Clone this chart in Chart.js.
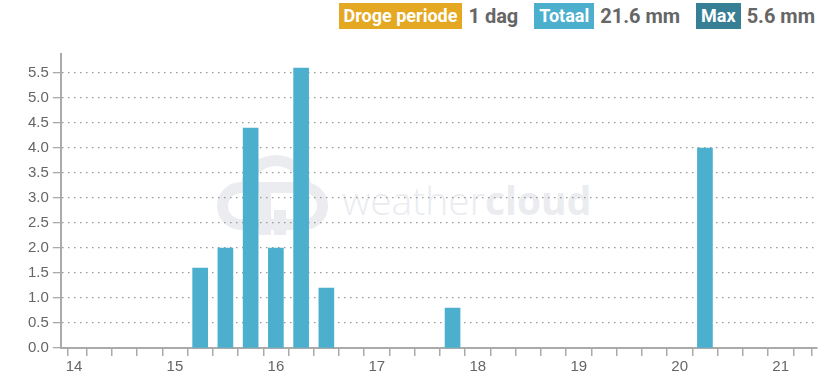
<!DOCTYPE html>
<html>
<head>
<meta charset="utf-8">
<script src="https://cdn.jsdelivr.net/npm/chart.js@4.4.1/dist/chart.umd.min.js"></script>
<style>
  html, body { margin: 0; padding: 0; background: #fff; }
  body { width: 827px; height: 382px; position: relative; overflow: hidden; font-family: Roboto, Arial, sans-serif; }
  .legend { position: absolute; top: 3px; right: 12px; display: flex; align-items: center; white-space: nowrap; }
  .badge { color: #fff; font-weight: 700; font-size: 18px; padding: 2px 5px; line-height: 22px; }
  .val { color: #666; font-weight: 700; font-size: 20px; margin: 0 16px 0 6px; }
  .val.last { margin-right: 0; }
  .wm { position: absolute; left: 342px; top: 173px; font-family: "Open Sans", sans-serif; font-size: 39px; font-weight: 300; color: #ebecf0; }
  .wm b { font-weight: 700; }
  .cloud { position: absolute; left: 217px; top: 182px; width: 111px; height: 48px; border: 11px solid #ebecf0; border-radius: 26px; box-sizing: border-box; }
  .cloud2 { position: absolute; left: 240px; top: 155px; width: 72px; height: 72px; border: 11px solid #ebecf0; border-bottom-color: transparent; border-left-color: transparent; border-radius: 50%; box-sizing: border-box; transform: rotate(-45deg); }
  .cbar { position: absolute; background: #ebecf0; }
  #wrap { position: absolute; left: 0; top: 36px; width: 827px; height: 346px; }
</style>
</head>
<body>
<div class="cloud2"></div>
<div class="cloud"></div>
<div class="cbar" style="left:259px;top:192px;width:12px;height:43px"></div>
<div class="cbar" style="left:274px;top:210px;width:12px;height:25px"></div>
<div class="wm">weather<b>cloud</b></div>
<div class="legend">
  <span class="badge" style="background:#e5a823">Droge periode</span><span class="val">1 dag</span>
  <span class="badge" style="background:#4bafcd">Totaal</span><span class="val">21.6 mm</span>
  <span class="badge" style="background:#367f94">Max</span><span class="val last">5.6 mm</span>
</div>
<div id="wrap"><canvas id="rain"></canvas></div>
<script>
// 6-hour rain buckets, x = day of month
const times = [15.25, 15.5, 15.75, 16, 16.25, 16.5, 17.75, 20.25];
const rain = [1.6, 2.0, 4.4, 2.0, 5.6, 1.2, 0.8, 4.0];

const BAR = '#4bafcd';
const AXIS = '#aaa';
const TEXT = '#666';
const X_MIN = 13.87, X_MAX = 21.36;

const onGrid = (v, step) => Math.abs(v / step - Math.round(v / step)) < 1e-6;

new Chart(document.getElementById('rain'), {
  type: 'bar',
  data: {
    datasets: [{
      data: times.map((t, i) => ({ x: t, y: rain[i] })),
      backgroundColor: BAR,
      borderWidth: 0,
      barThickness: 15,
    }]
  },
  options: {
    responsive: true,
    maintainAspectRatio: false,
    animation: false,
    layout: { padding: { left: 24, right: 10, top: 18, bottom: 4 } },
    plugins: { legend: { display: false }, tooltip: { enabled: false } },
    scales: {
      x: {
        type: 'linear',
        min: X_MIN,
        max: X_MAX,
        offset: false,
        border: { color: AXIS, width: 2 },
        afterBuildTicks: s => {
          // quarter-day ticks plus both ends of the axis
          const t = [{ value: X_MIN }];
          for (let q = 14 * 4; q / 4 < X_MAX; q++) t.push({ value: q / 4 });
          t.push({ value: X_MAX });
          s.ticks = t;
        },
        grid: { drawOnChartArea: false, drawTicks: true, tickLength: 8, color: AXIS, lineWidth: 1.5 },
        ticks: {
          autoSkip: false,
          maxRotation: 0,
          color: TEXT,
          padding: 2,
          font: { family: 'Arial, "Liberation Sans", sans-serif', size: 15 },
          callback: v => onGrid(v, 1) ? String(v) : ''
        }
      },
      y: {
        min: 0,
        max: 5.88,
        border: { color: AXIS, width: 2, dash: [1.5, 4.5] },
        afterBuildTicks: s => { s.ticks = s.ticks.filter(t => onGrid(t.value, 0.5)); },
        grid: {
          color: '#999',
          lineWidth: 1.3,
          tickBorderDash: [],
          tickColor: AXIS,
          tickLength: 8,
          drawTicks: true
        },
        ticks: {
          stepSize: 0.5,
          color: TEXT,
          padding: 4,
          font: { family: 'Arial, "Liberation Sans", sans-serif', size: 15 },
          callback: v => Number(v).toFixed(1)
        }
      }
    }
  }
});
</script>
</body>
</html>
